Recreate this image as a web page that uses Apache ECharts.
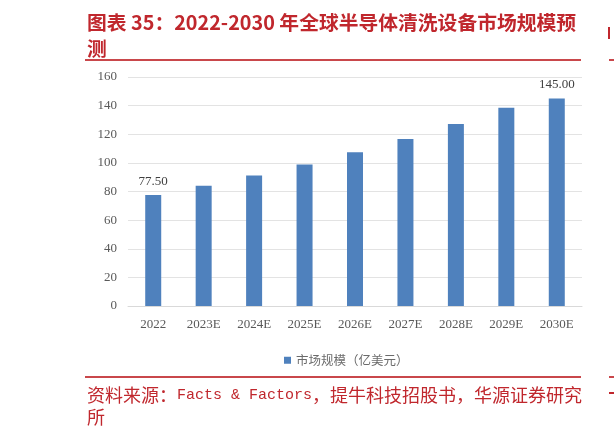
<!DOCTYPE html>
<html>
<head>
<meta charset="utf-8">
<script src="https://cdn.jsdelivr.net/npm/echarts@6/dist/echarts.min.js"></script>
<style>
html,body{margin:0;padding:0;background:#fff;}
#c{width:614px;height:439px;}
</style>
</head>
<body>
<div id="c"></div>
<script>
const categories = ['2022','2023E','2024E','2025E','2026E','2027E','2028E','2029E','2030E'];
const marketSize = [77.5, 84.0, 91.1, 98.8, 107.4, 116.6, 127.2, 138.6, 145.0];
const labeledIdx = [0, 8];
const seriesName = '市场规模（亿美元）';
const titleText = '图表 35：2022-2030 年全球半导体清洗设备市场规模预\n测';

const chart = echarts.init(document.getElementById('c'));
const red = '#C0272D';
const lineRed = '#C9474B';

chart.setOption({
  animation: false,
  backgroundColor: '#ffffff',
  grid: { left: 128, right: 32, top: 77, bottom: 133 },
  legend: {
    data: [seriesName],
    left: 279, top: 349,
    icon: 'rect', itemWidth: 7, itemHeight: 7,
    textStyle: { color: '#6b6b6b', fontSize: 12.5, fontFamily: '"Noto Sans CJK SC", sans-serif' }
  },
  xAxis: {
    type: 'category',
    data: categories,
    axisLine: { lineStyle: { color: '#D9D9D9' } },
    axisTick: { show: false },
    axisLabel: { color: '#595959', fontSize: 13, margin: 12, fontFamily: '"Liberation Serif", serif' }
  },
  yAxis: {
    type: 'value',
    min: 0, max: 160, interval: 20,
    axisLine: { show: false },
    axisTick: { show: false },
    axisLabel: { color: '#595959', fontSize: 13, margin: 11, fontFamily: '"Liberation Serif", serif' },
    splitLine: { lineStyle: { color: '#E3E3E3' } }
  },
  series: [{
    name: seriesName,
    type: 'bar',
    barWidth: 16,
    itemStyle: { color: '#4F81BD' },
    data: marketSize.map((v, i) => ({
      value: v,
      label: {
        show: labeledIdx.includes(i),
        position: 'top', distance: 7,
        formatter: p => p.value.toFixed(2),
        color: '#404040', fontSize: 13, fontFamily: '"Liberation Serif", serif'
      }
    }))
  }],
  graphic: [
    { type: 'text', left: 87, top: 9, style: {
        text: titleText, fill: red, fontSize: 19.8, fontWeight: 'bold', lineHeight: 26,
        fontFamily: '"Noto Sans CJK SC", sans-serif' } },
    { type: 'rect', shape: { x: 85, y: 59, width: 496, height: 2 }, style: { fill: lineRed } },
    { type: 'rect', shape: { x: 85, y: 376, width: 496, height: 2 }, style: { fill: lineRed } },
    { type: 'text', left: 87, top: 386, style: {
        rich: {
          cn: { fill: red, fontSize: 18, lineHeight: 22, fontFamily: '"Noto Sans CJK SC", sans-serif' },
          en: { fill: red, fontSize: 15, lineHeight: 22, fontFamily: '"Liberation Mono", monospace' }
        },
        text: '{cn|资料来源：}{en|Facts & Factors}{cn|，提牛科技招股书，华源证券研究}\n{cn|所}'
      } },
    { type: 'rect', shape: { x: 608, y: 27, width: 2, height: 12 }, style: { fill: red } },
    { type: 'rect', shape: { x: 609, y: 59, width: 5, height: 2 }, style: { fill: lineRed } },
    { type: 'rect', shape: { x: 609, y: 376, width: 5, height: 2 }, style: { fill: lineRed } },
    { type: 'rect', shape: { x: 609, y: 392, width: 5, height: 2 }, style: { fill: red } }
  ]
});
</script>
</body>
</html>
